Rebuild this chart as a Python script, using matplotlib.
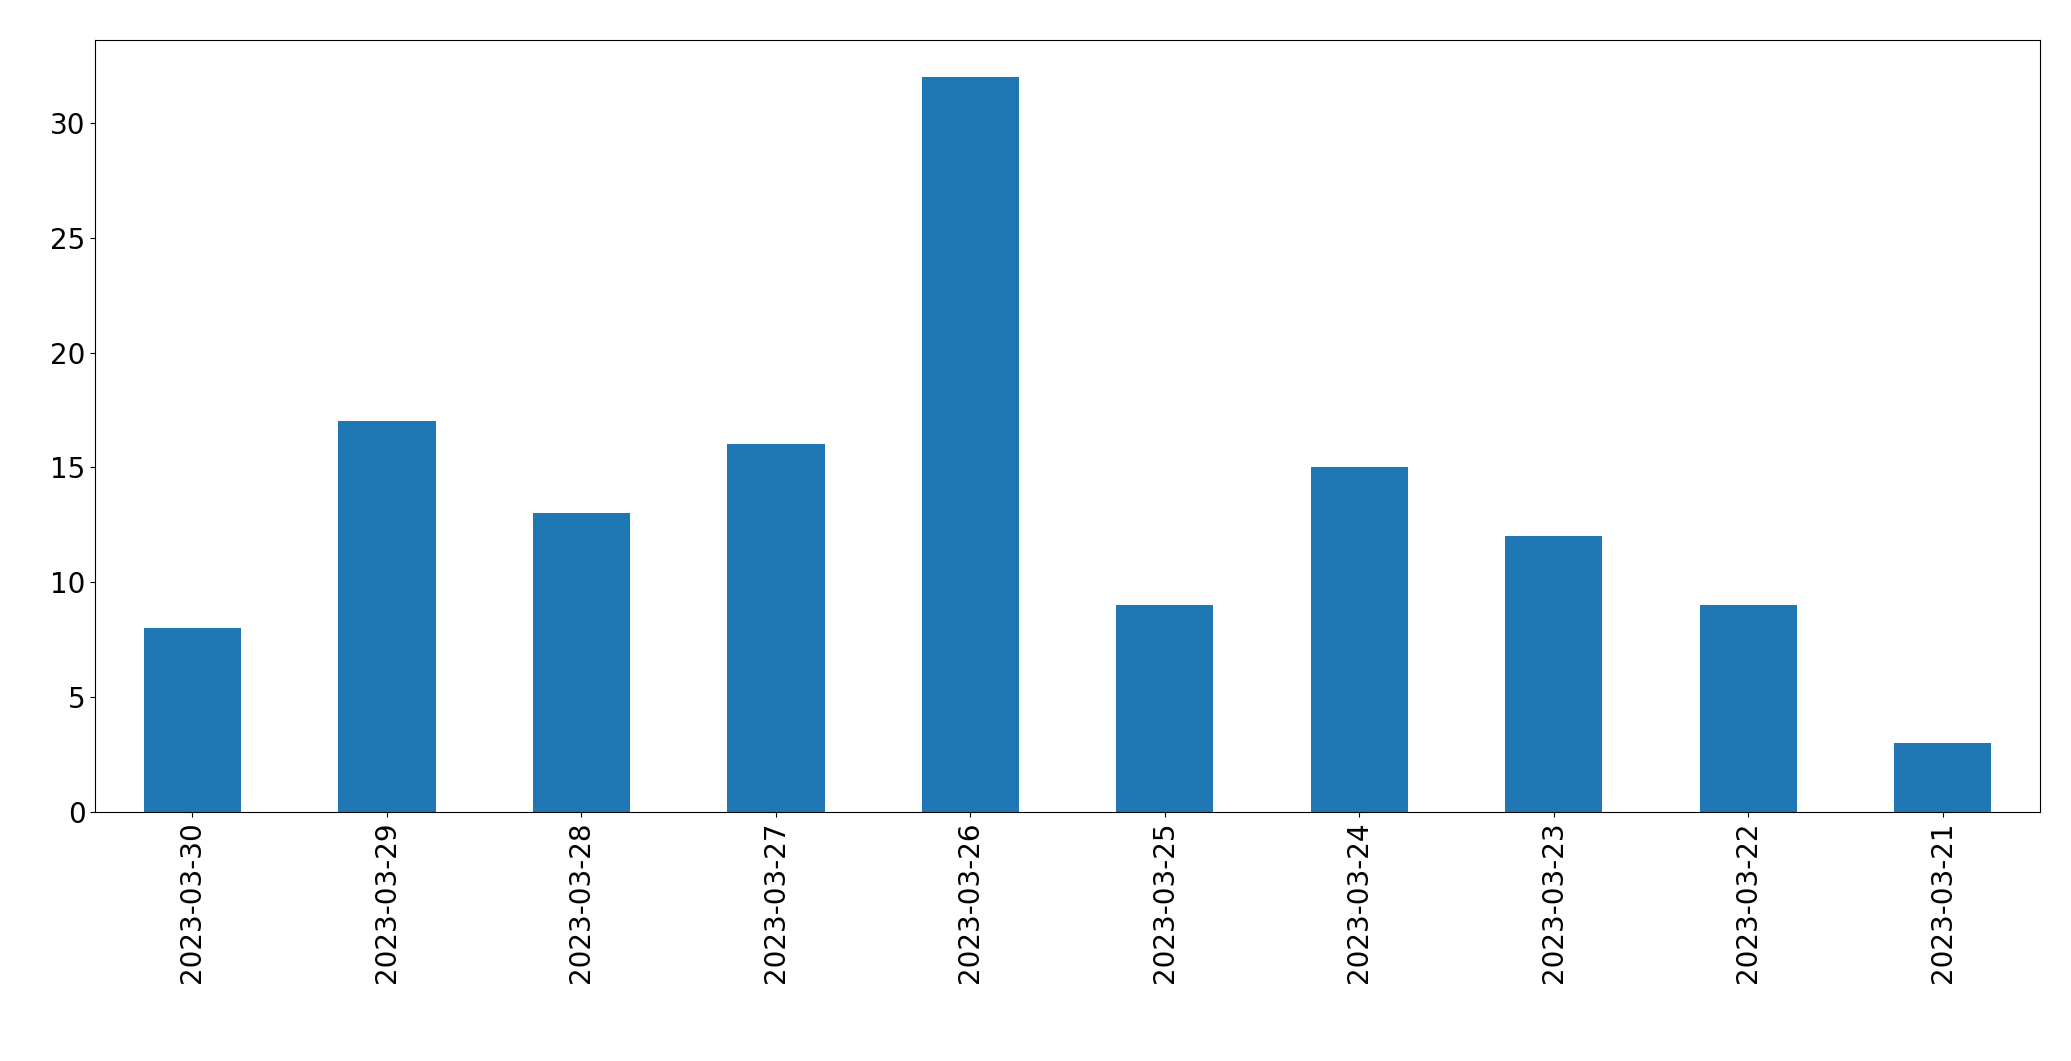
import matplotlib
matplotlib.use("Agg")
import matplotlib.pyplot as plt
import numpy as np

dates = ["2023-03-30", "2023-03-29", "2023-03-28", "2023-03-27", "2023-03-26",
         "2023-03-25", "2023-03-24", "2023-03-23", "2023-03-22", "2023-03-21"]
counts = [8, 17, 13, 16, 32, 9, 15, 12, 9, 3]

fig = plt.figure(figsize=(20.71, 10.61), dpi=100)
ax = fig.add_axes([0.046, 0.235, 0.939, 0.727])
x = np.arange(len(dates))
ax.bar(x, counts, width=0.5, color="#1f77b4")
ax.set_xlim(-0.5, len(dates) - 0.5)
ax.set_ylim(0, 33.6)
ax.set_xticks(x)
ax.set_xticklabels(dates, rotation=90)
ax.tick_params(labelsize=20)
fig.savefig("out.png", dpi=100)
